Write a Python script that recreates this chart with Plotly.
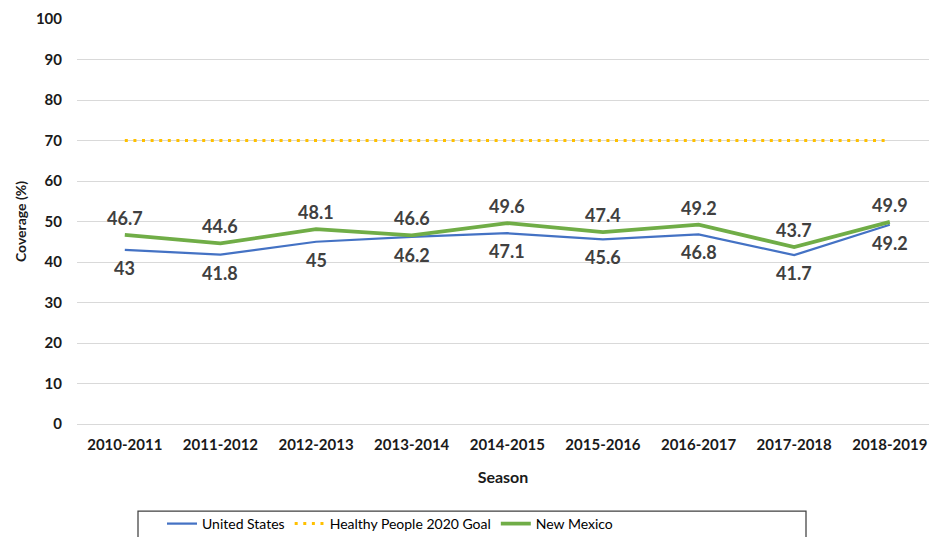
import plotly.graph_objects as go

seasons = ["2010-2011", "2011-2012", "2012-2013", "2013-2014", "2014-2015",
           "2015-2016", "2016-2017", "2017-2018", "2018-2019"]
us_values = [43, 41.8, 45, 46.2, 47.1, 45.6, 46.8, 41.7, 49.2]
goal_values = [70, 70, 70, 70, 70, 70, 70, 70, 70]
nm_values = [46.7, 44.6, 48.1, 46.6, 49.6, 47.4, 49.2, 43.7, 49.9]
y_ticks = [0, 10, 20, 30, 40, 50, 60, 70, 80, 90, 100]

FONT = "Lato"
LABEL_COLOR = "#404040"
AXIS_COLOR = "#1a1a1a"

fig = go.Figure()
fig.add_trace(go.Scatter(
    x=seasons, y=us_values, name="United States", mode="lines",
    line=dict(color="#4472C4", width=2.25),
))
fig.add_trace(go.Scatter(
    x=seasons, y=goal_values, name="Healthy People 2020 Goal", mode="lines",
    line=dict(color="#FFC000", width=3, dash="3px,5.6px"),
))
fig.add_trace(go.Scatter(
    x=seasons, y=nm_values, name="New Mexico", mode="lines",
    line=dict(color="#70AD47", width=3.75),
))

label_font = dict(family=FONT, size=18, color=LABEL_COLOR, weight="bold")
for s, v in zip(seasons, us_values):
    fig.add_annotation(x=s, y=v, text=str(v), showarrow=False,
                       yshift=-18, font=label_font)
for s, v in zip(seasons, nm_values):
    fig.add_annotation(x=s, y=v, text=str(v), showarrow=False,
                       yshift=17, font=label_font)

# Legend frame (Excel style, wider than its entries)
fig.add_shape(type="rect", xref="paper", yref="paper",
              x0=(138 - 77) / 852, x1=(806 - 77) / 852,
              y0=-(545 - 424) / 405, y1=-(511 - 424) / 405,
              line=dict(color="#404040", width=1.25), fillcolor="rgba(0,0,0,0)")

fig.update_layout(
    width=929, height=537,
    margin=dict(l=77, r=0, t=19, b=113, autoexpand=False),
    plot_bgcolor="white", paper_bgcolor="white",
    font=dict(family=FONT, color=LABEL_COLOR),
    showlegend=True,
    legend=dict(
        orientation="h", x=(162 - 77) / 852, xanchor="left",
        y=-(524 - 424) / 405, yanchor="middle",
        borderwidth=0, bgcolor="rgba(0,0,0,0)",
        font=dict(family=FONT, size=14, color="#000000"),
    ),
    xaxis=dict(
        type="category", range=[-0.5, 8.41], automargin=False,
        showgrid=False, showline=False, zeroline=False, ticks="",
        tickfont=dict(family=FONT, size=15, color=AXIS_COLOR, weight="bold"),
        ticklabelstandoff=10,
        title=dict(text="Season", font=dict(family=FONT, size=16, color=AXIS_COLOR, weight="bold"),
                   standoff=19),
    ),
    yaxis=dict(
        range=[0, 100], tickvals=y_ticks, automargin=False,
        showgrid=True, gridcolor="#D9D9D9", gridwidth=1,
        zeroline=True, zerolinecolor="#D9D9D9", zerolinewidth=1,
        showline=False, ticks="",
        tickfont=dict(family=FONT, size=15, color=AXIS_COLOR, weight="bold"),
        ticklabelstandoff=14,
        title=dict(text="Coverage (%)", font=dict(family=FONT, size=14, color=AXIS_COLOR, weight="bold"),
                   standoff=5),
    ),
)

fig.write_html("out.html", config={"displayModeBar": False},
               post_script="document.body.style.margin='0';document.body.style.overflow='hidden';")
